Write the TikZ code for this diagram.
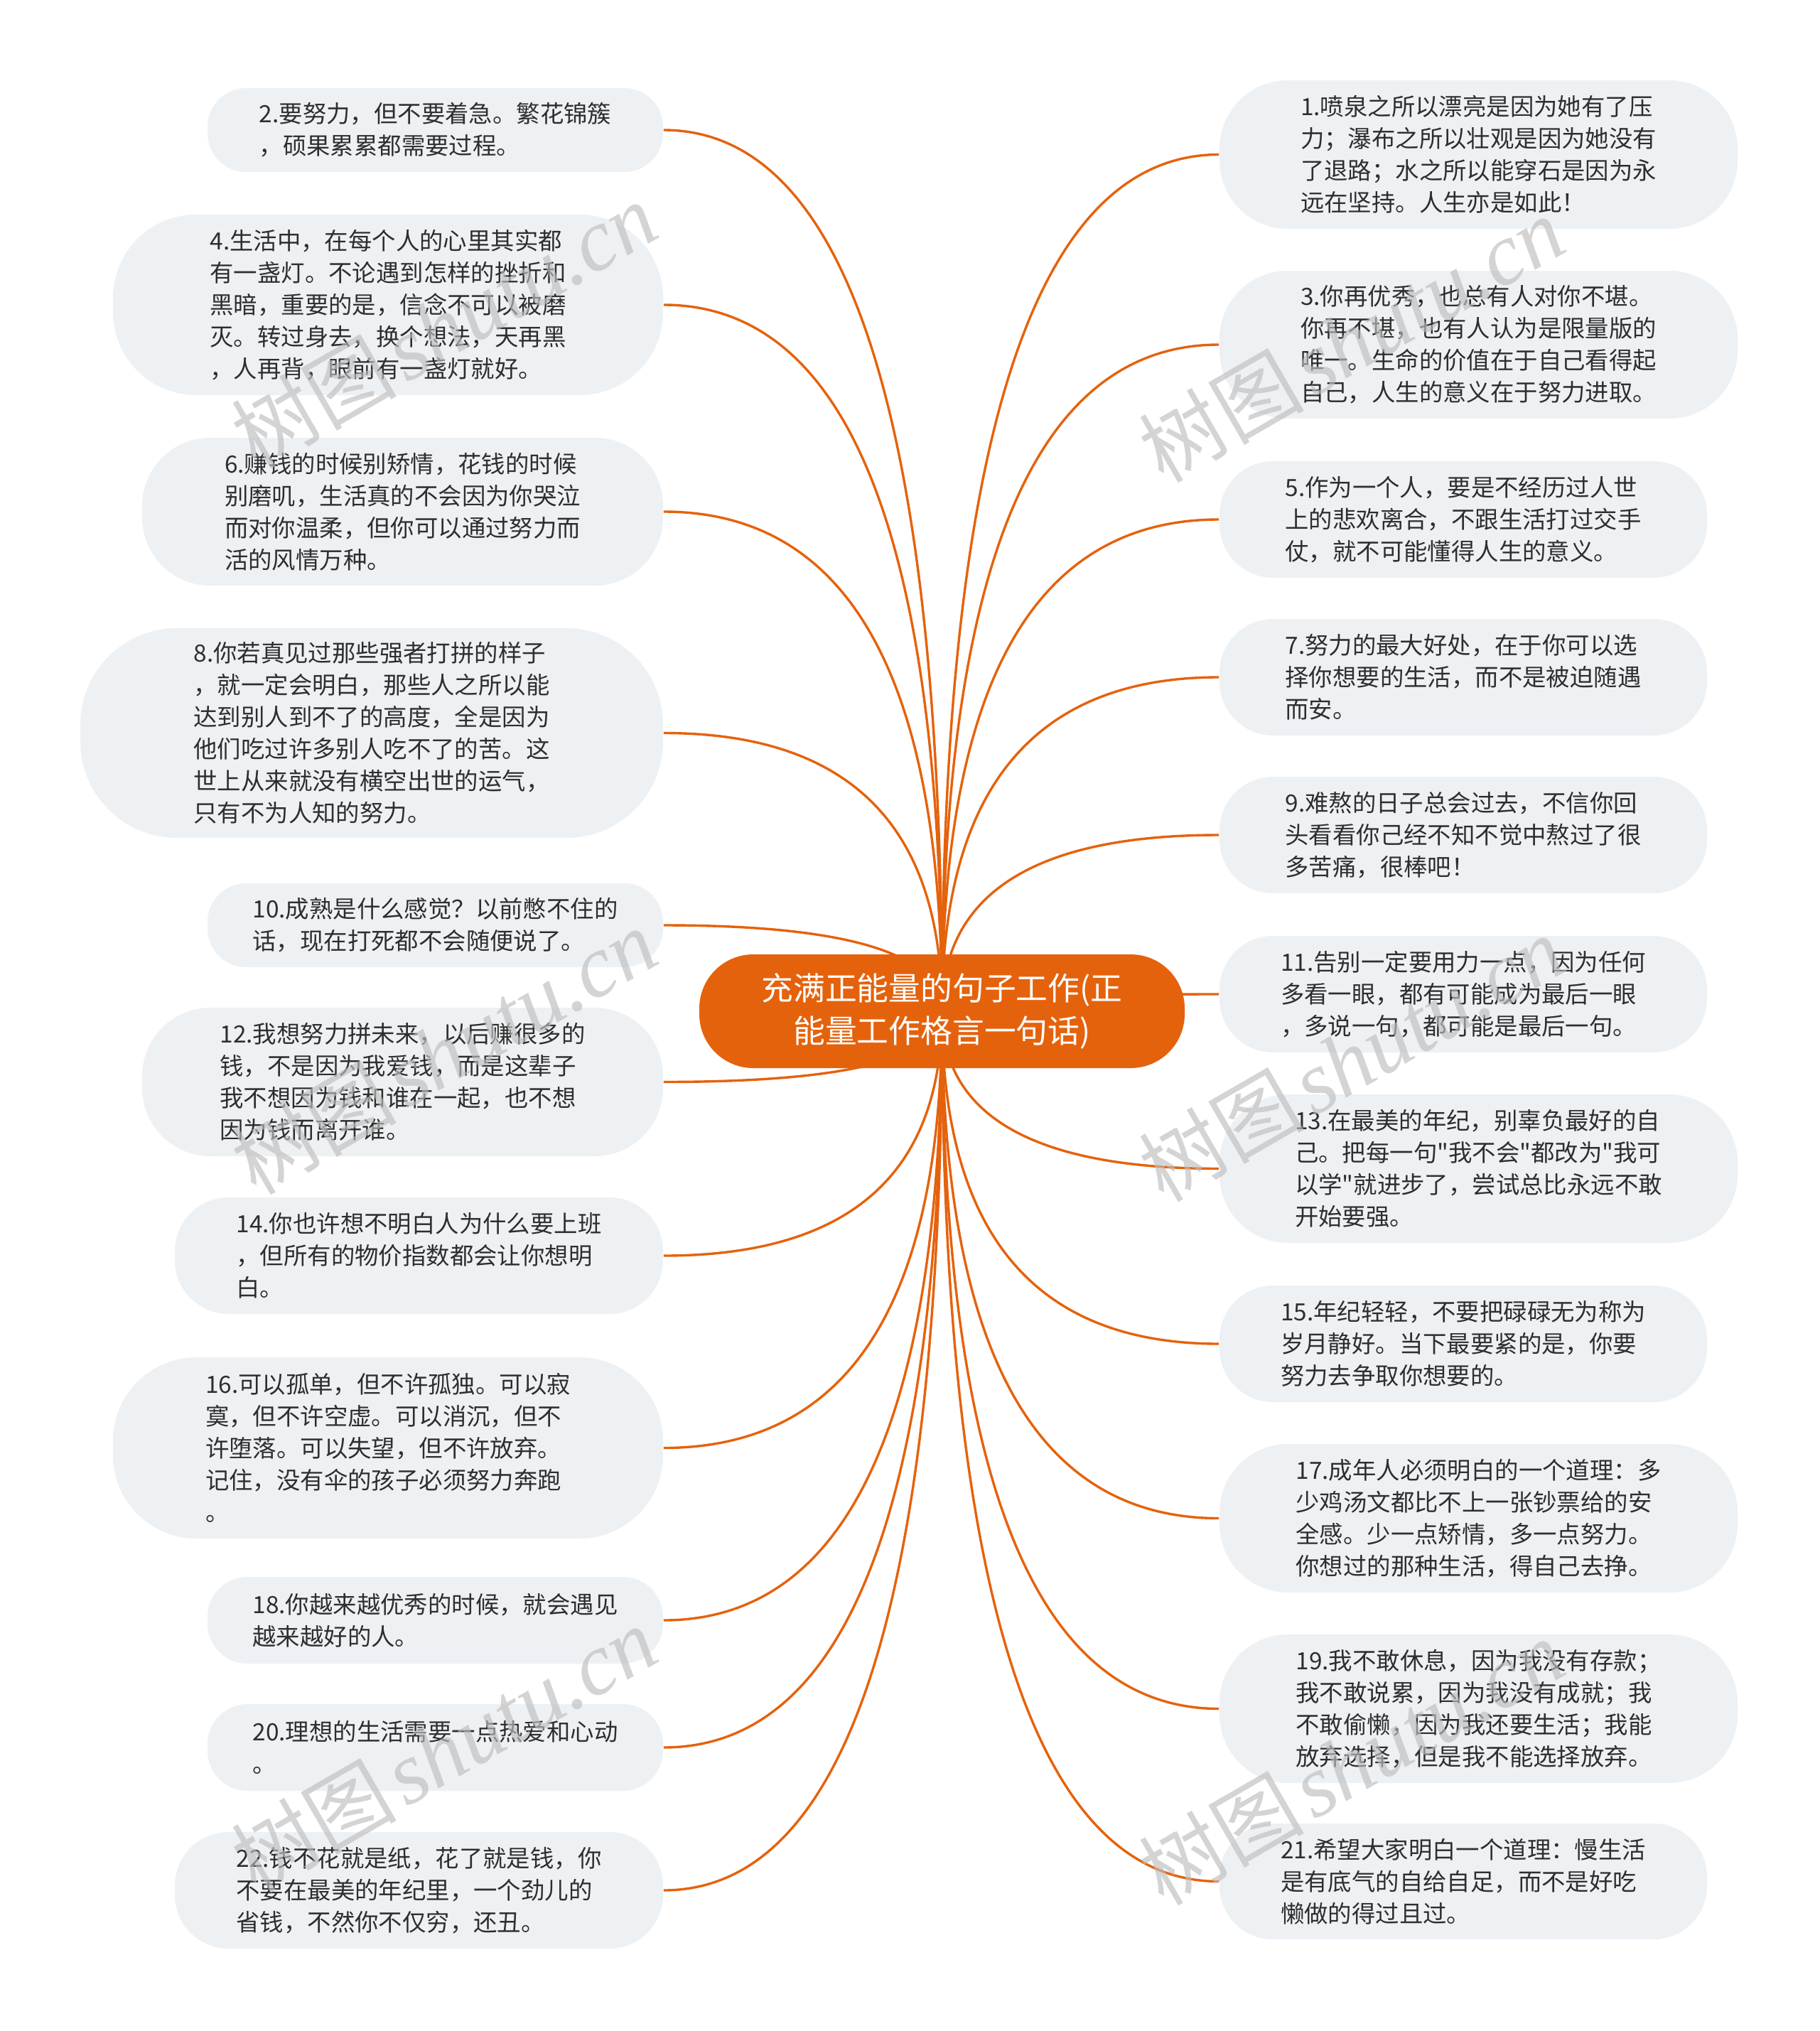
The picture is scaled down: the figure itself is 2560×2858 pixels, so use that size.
\documentclass[tikz,border=0pt]{standalone}
\usepackage{fontspec}
\newfontfamily\cjk{Noto Sans CJK SC}
\newfontfamily\wmlatin{Liberation Serif}
\usetikzlibrary{calc}
\pgfdeclarelayer{bg}
\pgfdeclarelayer{fg}
\pgfsetlayers{bg,main,fg}
\definecolor{brand}{HTML}{E5620C}
\definecolor{leaffill}{HTML}{EEF1F4}
\definecolor{txt}{HTML}{2E2E2E}
\definecolor{wmgray}{HTML}{BDBDBD}
\tikzset{
  leaf/.style={fill=leaffill, draw=none, text=txt, align=left, inner sep=0pt,
    font=\cjk\fontsize{8.35}{11.25}\selectfont},
  sz/.style 2 args={minimum width=#1*0.25pt, minimum height=#2*0.25pt, rounded corners=#2*0.115pt},
  rootnode/.style={fill=brand, text=white, align=center, inner sep=0pt,
    font=\cjk\fontsize{11.2}{15}\selectfont,
    minimum width=170.75pt, minimum height=40pt, rounded corners=19pt},
  link/.style={draw=brand, line width=0.85pt},
  wmark/.style={text=wmgray, opacity=0.65, anchor=base west, rotate=30, inner sep=0pt},
}
\newcommand{\wmtext}{{\cjk\fontsize{29}{29}\selectfont 树图}\hspace{3pt}{\wmlatin\itshape\fontsize{31}{31}\selectfont shutu.cn}}
\begin{document}
\begin{tikzpicture}[x=0.25pt, y=-0.25pt]
\useasboundingbox (0,0) rectangle (2560,2858);

\node[rootnode] (root) at (1325.5,1423) {充满正能量的句子工作(正\\能量工作格言一句话)};

% left side
\node[leaf, sz={641}{118}] (n2) at (612.5,183) {2.要努力，但不要着急。繁花锦簇\\，硕果累累都需要过程。};
\node[leaf, sz={774}{254}] (n4) at (546,429) {4.生活中，在每个人的心里其实都\\有一盏灯。不论遇到怎样的挫折和\\黑暗，重要的是，信念不可以被磨\\灭。转过身去，换个想法，天再黑\\，人再背，眼前有一盏灯就好。};
\node[leaf, sz={733}{208}] (n6) at (566.5,720) {6.赚钱的时候别矫情，花钱的时候\\别磨叽，生活真的不会因为你哭泣\\而对你温柔，但你可以通过努力而\\活的风情万种。};
\node[leaf, sz={820}{295}] (n8) at (523,1031.5) {8.你若真见过那些强者打拼的样子\\，就一定会明白，那些人之所以能\\达到别人到不了的高度，全是因为\\他们吃过许多别人吃不了的苦。这\\世上从来就没有横空出世的运气，\\只有不为人知的努力。};
\node[leaf, sz={641}{118}] (n10) at (612.5,1302) {10.成熟是什么感觉？以前憋不住的\\话，现在打死都不会随便说了。};
\node[leaf, sz={733}{209}] (n12) at (566.5,1522.5) {12.我想努力拼未来，以后赚很多的\\钱，不是因为我爱钱，而是这辈子\\我不想因为钱和谁在一起，也不想\\因为钱而离开谁。};
\node[leaf, sz={687}{164}] (n14) at (589.5,1767) {14.你也许想不明白人为什么要上班\\，但所有的物价指数都会让你想明\\白。};
\node[leaf, sz={774}{255}] (n16) at (546,2037.5) {16.可以孤单，但不许孤独。可以寂\\寞，但不许空虚。可以消沉，但不\\许堕落。可以失望，但不许放弃。\\记住，没有伞的孩子必须努力奔跑\\。};
\node[leaf, sz={641}{122}] (n18) at (612.5,2280) {18.你越来越优秀的时候，就会遇见\\越来越好的人。};
\node[leaf, sz={641}{122}] (n20) at (612.5,2459) {20.理想的生活需要一点热爱和心动\\。};
\node[leaf, sz={687}{164}] (n22) at (589.5,2660) {22.钱不花就是纸，花了就是钱，你\\不要在最美的年纪里，一个劲儿的\\省钱，不然你不仅穷，还丑。};

% right side
\node[leaf, sz={729}{209}] (n1) at (2080.5,217.5) {1.喷泉之所以漂亮是因为她有了压\\力；瀑布之所以壮观是因为她没有\\了退路；水之所以能穿石是因为永\\远在坚持。人生亦是如此！};
\node[leaf, sz={729}{208}] (n3) at (2080.5,485) {3.你再优秀，也总有人对你不堪。\\你再不堪，也有人认为是限量版的\\唯一。生命的价值在于自己看得起\\自己，人生的意义在于努力进取。};
\node[leaf, sz={686}{164}] (n5) at (2059,731) {5.作为一个人，要是不经历过人世\\上的悲欢离合，不跟生活打过交手\\仗，就不可能懂得人生的意义。};
\node[leaf, sz={686}{164}] (n7) at (2059,953) {7.努力的最大好处，在于你可以选\\择你想要的生活，而不是被迫随遇\\而安。};
\node[leaf, sz={686}{164}] (n9) at (2059,1175) {9.难熬的日子总会过去，不信你回\\头看看你己经不知不觉中熬过了很\\多苦痛，很棒吧！};
\node[leaf, sz={686}{164}] (n11) at (2059,1399) {11.告别一定要用力一点，因为任何\\多看一眼，都有可能成为最后一眼\\，多说一句，都可能是最后一句。};
\node[leaf, sz={729}{209}] (n13) at (2080.5,1644.5) {13.在最美的年纪，别辜负最好的自\\己。把每一句"我不会"都改为"我可\\以学"就进步了，尝试总比永远不敢\\开始要强。};
\node[leaf, sz={686}{164}] (n15) at (2059,1891) {15.年纪轻轻，不要把碌碌无为称为\\岁月静好。当下最要紧的是，你要\\努力去争取你想要的。};
\node[leaf, sz={729}{209}] (n17) at (2080.5,2136.5) {17.成年人必须明白的一个道理：多\\少鸡汤文都比不上一张钞票给的安\\全感。少一点矫情，多一点努力。\\你想过的那种生活，得自己去挣。};
\node[leaf, sz={729}{209}] (n19) at (2080.5,2404.5) {19.我不敢休息，因为我没有存款；\\我不敢说累，因为我没有成就；我\\不敢偷懒，因为我还要生活；我能\\放弃选择，但是我不能选择放弃。};
\node[leaf, sz={686}{163}] (n21) at (2059,2647.5) {21.希望大家明白一个道理：慢生活\\是有底气的自给自足，而不是好吃\\懒做的得过且过。};

\begin{pgfonlayer}{bg}
\fill[white] (0,0) rectangle (2560,2858);
\foreach \n in {n2,n4,n6,n8,n10,n12,n14,n16,n18,n20,n22}{
  \coordinate (k\n) at (root.center |- \n.east);
  \draw[link] (root.center) .. controls ($(root.center)!0.6667!(k\n)$) and ($(\n.east)!0.6667!(k\n)$) .. (\n.east);
}
\foreach \n in {n1,n3,n5,n7,n9,n11,n13,n15,n17,n19,n21}{
  \coordinate (k\n) at (root.center |- \n.west);
  \draw[link] (root.center) .. controls ($(root.center)!0.6667!(k\n)$) and ($(\n.west)!0.6667!(k\n)$) .. (\n.west);
}
\end{pgfonlayer}

\begin{pgfonlayer}{fg}
\node[wmark] (w1) at (360,662) {\wmtext};
\node[wmark] (w2) at (360,1684) {\wmtext};
\node[wmark] (w3) at (360,2666) {\wmtext};
\node[wmark] (w4) at (1637,682) {\wmtext};
\node[wmark] (w5) at (1637,1694) {\wmtext};
\node[wmark] (w6) at (1637,2684) {\wmtext};
\end{pgfonlayer}
\end{tikzpicture}
\end{document}
